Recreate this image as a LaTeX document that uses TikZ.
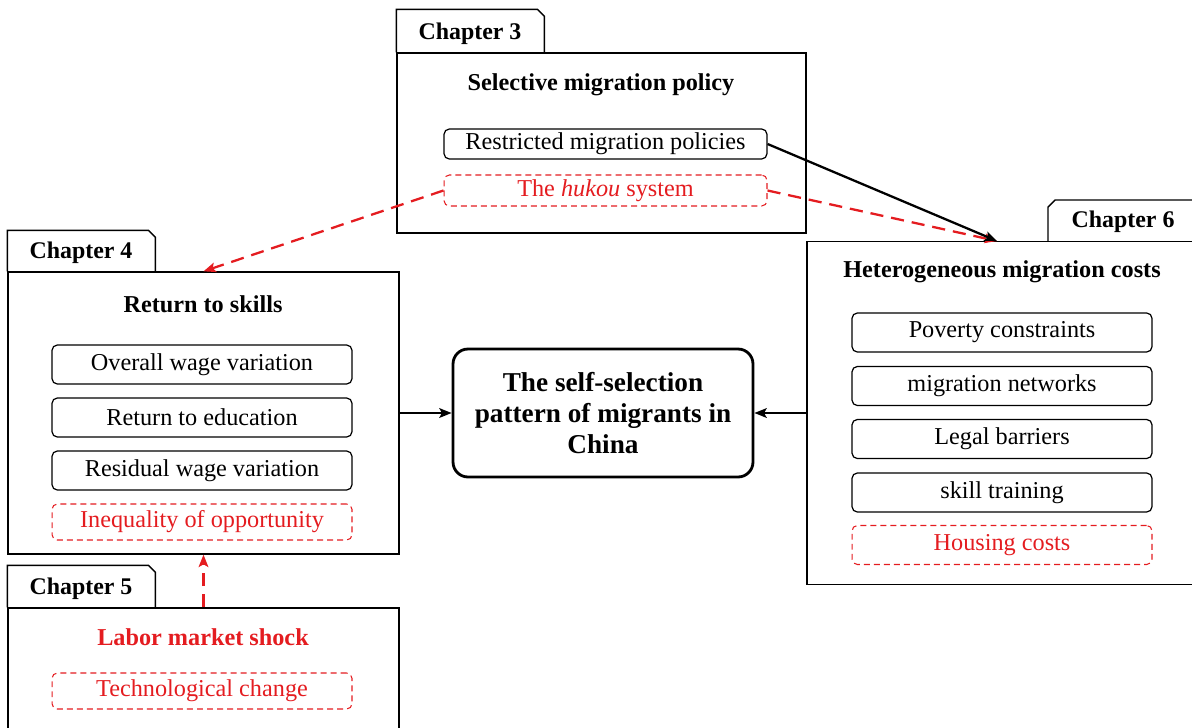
\documentclass[tikz,border=0pt]{standalone}
\usepackage{fontspec}
\setmainfont{Liberation Serif}
\usetikzlibrary{arrows.meta}
\definecolor{hred}{RGB}{228,28,32}

\begin{document}
\begin{tikzpicture}[x=0.02cm,y=-0.02cm,font=\fontsize{13.8}{16}\selectfont,frame/.style={draw=black,line width=0.8pt,inner sep=0pt},tabline/.style={draw=black,line width=0.8pt},chap/.style={font=\fontsize{13.6}{16}\selectfont\bfseries},head/.style={font=\fontsize{13.8}{16}\selectfont\bfseries},item/.style={draw=black,line width=0.7pt,rounded corners=3pt,minimum width=6cm,minimum height=0.78cm,inner sep=0pt},itemR/.style={item,draw=hred,text=hred,line width=0.6pt,dash pattern=on 3.4pt off 2.3pt},core/.style={draw=black,line width=1.6pt,rounded corners=8.5pt,minimum width=6cm,minimum height=2.56cm,align=center,font=\fontsize{15.5}{17.5}\selectfont\bfseries},link/.style={draw=black,line width=1.3pt,-{Stealth[length=7pt,width=5.5pt,inset=1.5pt]}},linkR/.style={link,color=hred,dash pattern=on 7.5pt off 4.5pt}]
\useasboundingbox (0,0) rectangle (1192,727);

\node[frame,minimum width=8.18cm,minimum height=3.6cm] (ch3) at (601.5,143) {};
\draw[tabline] (ch3.north west) -- ++(0,-43) -- ++(141,0) -- ++(7,7) -- ++(0,36);
\node[chap] (t3) at (470,34) {Chapter 3};
\node[head] (h3) at (601,85) {Selective migration policy};
\node[item,minimum width=6.46cm,minimum height=0.6cm] (restr) at (605.5,144) {Restricted migration policies};
\node[itemR,minimum width=6.46cm,minimum height=0.62cm] (hukou) at (605.5,190.5) {The \textit{hukou} system};

\node[frame,minimum width=7.82cm,minimum height=5.64cm] (ch4) at (203.5,413) {};
\draw[tabline] (ch4.north west) -- ++(0,-41) -- ++(141,0) -- ++(7,7) -- ++(0,34);
\node[chap] (t4) at (81,253) {Chapter 4};
\node[head] (h4) at (203,304) {Return to skills};
\node[item] (wage) at (202,364.5) {Overall wage variation};
\node[item] (edu) at (202,417.5) {Return to education};
\node[item] (resid) at (202,470.5) {Residual wage variation};
\node[itemR,minimum height=0.72cm] (ineq) at (202,522) {Inequality of opportunity};

\node[frame,minimum width=7.82cm,minimum height=3.84cm] (ch5) at (203.5,704) {};
\draw[tabline] (ch5.north west) -- ++(0,-42) -- ++(141,0) -- ++(7,7) -- ++(0,35);
\node[chap] (t5) at (81,589) {Chapter 5};
\node[head,text=hred] (h5) at (203,637) {Labor market shock};
\node[itemR,minimum height=0.72cm] (tech) at (202,691) {Technological change};

\node[frame,minimum width=8.86cm,minimum height=6.86cm] (ch6) at (1028.5,413) {};
\draw[tabline] (1048,241.5) -- (1048,207) -- (1055,200) -- (1250,200);
\node[chap] (t6) at (1123,222) {Chapter 6};
\node[head] (h6) at (1002,272) {Heterogeneous migration costs};
\node[item] (pov) at (1002,332.5) {Poverty constraints};
\node[item] (netw) at (1002,386) {migration networks};
\node[item] (legal) at (1002,439) {Legal barriers};
\node[item] (skill) at (1002,492.5) {skill training};
\node[itemR] (house) at (1002,545) {Housing costs};
\coordinate (c6in) at (997,241);

\node[core] (core) at (603,413) {The self-selection\\pattern of migrants in\\China};

\draw[link] (ch4.east) -- (core.west);
\draw[link] (ch6.west) -- (core.east);
\draw[linkR] (hukou.west) -- (ch4.north);
\draw[linkR] (ch5.north) -- (ch4.south);
\draw[linkR] (hukou.east) -- (c6in);
\draw[link] (restr.east) -- (c6in);
\end{tikzpicture}
\end{document}
